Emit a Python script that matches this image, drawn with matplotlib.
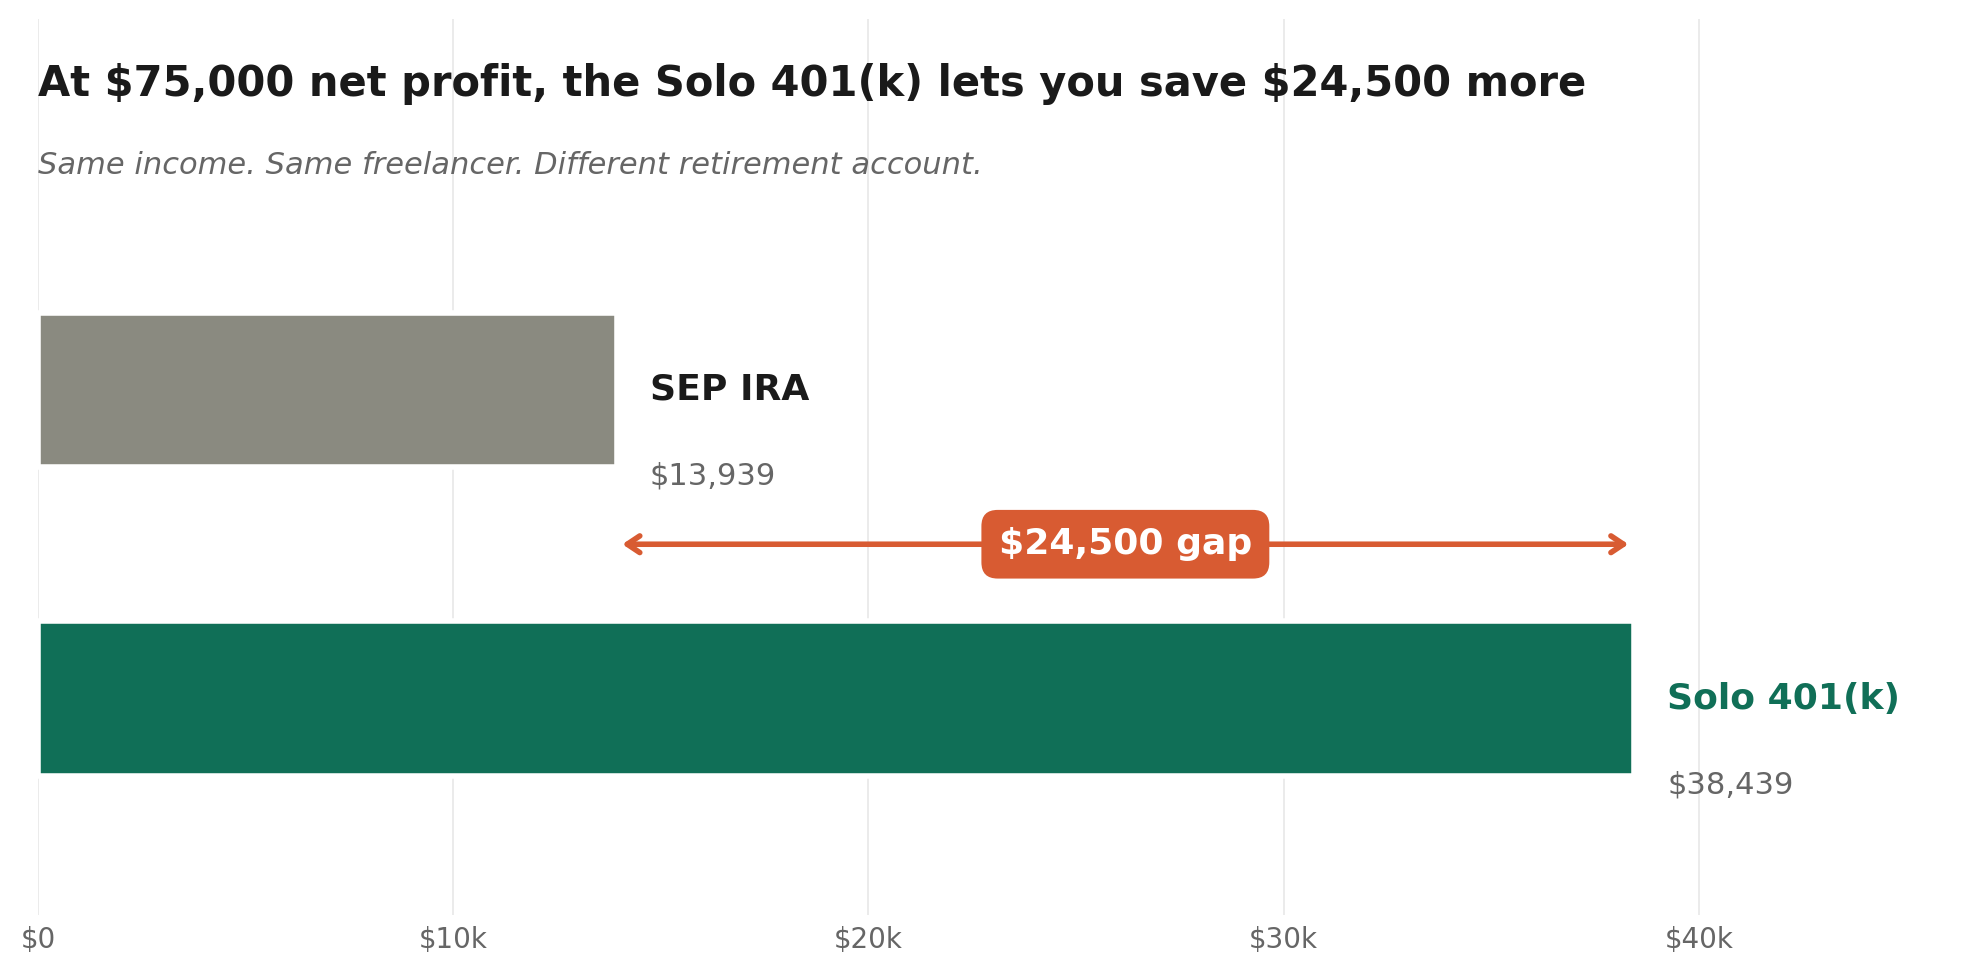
import matplotlib.pyplot as plt
from matplotlib.ticker import FuncFormatter

# data
accounts = ["Solo 401(k)", "SEP IRA"]
contributions = [38439, 13939]
bar_colors = ["#106f57", "#8a8a80"]
name_colors = ["#106f57", "#1a1a1a"]
xticks = [0, 10000, 20000, 30000, 40000]

title = "At $75,000 net profit, the Solo 401(k) lets you save $24,500 more"
subtitle = "Same income. Same freelancer. Different retirement account."

gap = contributions[0] - contributions[1]
orange = "#d85b32"

fig = plt.figure(figsize=(9.84, 4.865), dpi=200)
ax = fig.add_axes([0.0193, 0.0596, 0.9705, 0.9209])

ypos = list(range(len(accounts)))
ax.barh(ypos, contributions, height=0.5, color=bar_colors,
        edgecolor="white", linewidth=2, zorder=2)

for y, v, name, c in zip(ypos, contributions, accounts, name_colors):
    ax.text(v + 800, y, name, fontsize=13, fontweight="bold", color=c,
            va="center", ha="left")
    ax.text(v + 800, y - 0.28, "${:,}".format(v), fontsize=11,
            color="#666666", va="center", ha="left")

# gap arrow between the two bar ends
ymid = 0.5
ax.annotate("", xy=(contributions[0], ymid), xytext=(contributions[1], ymid),
            arrowprops=dict(arrowstyle="<->,head_length=0.45,head_width=0.3",
                            color=orange, lw=2, shrinkA=2, shrinkB=2),
            zorder=3)
ax.text((contributions[0] + contributions[1]) / 2, ymid,
        "${:,} gap".format(gap), fontsize=13, fontweight="bold",
        color="white", ha="center", va="center", zorder=4,
        bbox=dict(boxstyle="round,pad=0.48,rounding_size=0.45",
                  fc=orange, ec="none"))

ax.text(0, 0.9275, title, transform=ax.transAxes, fontsize=15,
        fontweight="bold", color="#1a1a1a", va="center", ha="left",
        parse_math=False)
ax.text(0, 0.836, subtitle, transform=ax.transAxes, fontsize=11,
        style="italic", color="#666666", va="center", ha="left")

ax.set_xlim(0, 46000)
ax.set_ylim(-0.7, 2.2)
ax.set_xticks(xticks)
ax.xaxis.set_major_formatter(FuncFormatter(
    lambda x, p: "$0" if x == 0 else "${:.0f}k".format(x / 1000)))
ax.set_yticks([])
ax.tick_params(axis="x", length=0, pad=4, labelsize=10, labelcolor="#666666")
ax.grid(axis="x", color="#ebebeb", lw=0.7, zorder=0)
ax.set_axisbelow(True)
for s in ax.spines.values():
    s.set_visible(False)

fig.savefig("out.png", dpi=200, facecolor="white")
